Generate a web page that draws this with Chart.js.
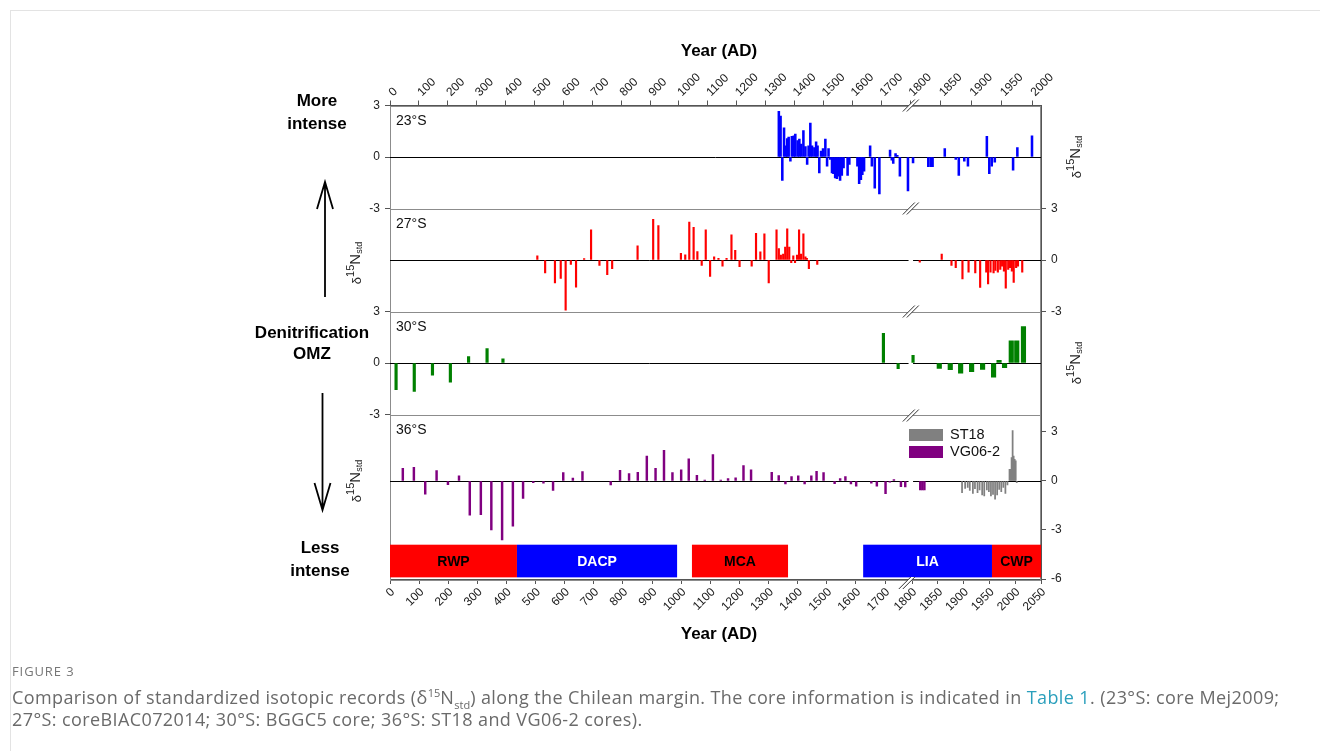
<!DOCTYPE html>
<html>
<head>
<meta charset="utf-8">
<script src="https://cdn.jsdelivr.net/npm/chart.js@4.4.1/dist/chart.umd.min.js"></script>
<style>
html,body{margin:0;padding:0;background:#fff;}
body{width:1320px;height:751px;position:relative;overflow:hidden;}
#frame{position:absolute;left:10px;top:10px;width:1310px;height:741px;border-left:1px solid #e3e3e3;border-top:1px solid #e3e3e3;}
#chart{position:absolute;left:0;top:0;}
#fig3{position:absolute;left:12px;top:662px;font:13px "Open Sans",sans-serif;color:#777;letter-spacing:.9px;}
#cap{position:absolute;left:12px;top:686px;font:18px/22px "Open Sans",sans-serif;color:#6a6a6a;white-space:nowrap;letter-spacing:.4px;}
#cap sup,#cap sub{font-size:11px;line-height:0;letter-spacing:0;}
#cap .lnk{color:#2a9fbc;}
</style>
</head>
<body>
<div id="frame"></div>
<canvas id="chart" width="1320" height="751"></canvas>
<div id="fig3">FIGURE 3</div>
<div id="cap">Comparison of standardized isotopic records (δ<sup>15</sup>N<sub>std</sub>) along the Chilean margin. The core information is indicated in <span class="lnk">Table 1</span>. (23°S: core Mej2009;<br>27°S: coreBIAC072014; 30°S: BGGC5 core; 36°S: ST18 and VG06-2 cores).</div>
<script>
const FONT = '"Liberation Sans", Arial, Helvetica, sans-serif';

// tick labels of the two year axes
const TOP_YEARS = [0,100,200,300,400,500,600,700,800,900,1000,1100,1200,1300,1400,1500,1600,1700,1800,1850,1900,1950,2000];
const BOTTOM_YEARS = [0,100,200,300,400,500,600,700,800,900,1000,1100,1200,1300,1400,1500,1600,1700,1800,1850,1900,1950,2000,2050];

// 23°S core Mej2009
const YEARS_23S = [1346,1352,1358,1364,1370,1375,1380,1386,1391,1398,1403,1411,1417,1423,1431,1438,1444,1449,1455,1461,1469,1475,1480,1486,1492,1499,1507,1513,1518,1524,1530,1535,1541,1547,1553,1558,1564,1570,1584,1590,1618,1624,1630,1635,1641,1662,1668,1678,1694,1731,1737,1742,1750,1756,1765,1793,1805,1830,1834,1837,1857,1875,1880,1889,1895,1926,1930,1934,1939,1969,1976,2000];
const D15N_23S = [2.66,2.39,-1.36,1.70,0.65,1.08,1.16,-0.24,1.20,1.24,1.34,0.95,1.04,0.75,1.54,0.61,-0.43,0.65,1.97,0.65,0.55,0.89,0.65,-0.93,0.35,0.49,1.04,-0.53,0.49,-0.14,-0.93,-0.97,-1.22,-1.26,-1.12,-1.36,-1.08,-0.63,-1.08,-0.43,-0.53,-1.56,-1.32,-1.03,-0.83,0.65,-0.53,-1.81,-2.15,0.41,-0.18,-0.37,0.20,0.10,-1.12,-1.97,-0.34,-0.57,-0.57,-0.57,0.49,-0.14,-1.08,-0.24,-0.53,1.20,-0.97,-0.53,-0.30,-0.77,0.55,1.24];

// 27°S core BIAC072014
const YEARS_27S = [510,537,571,591,608,626,644,672,696,725,752,769,857,911,929,1007,1022,1036,1051,1064,1079,1093,1108,1122,1137,1151,1165,1182,1195,1210,1252,1267,1282,1296,1311,1338,1346,1353,1361,1368,1375,1382,1389,1396,1402,1409,1416,1423,1431,1438,1443,1450,1479,1816,1852,1868,1875,1886,1896,1907,1915,1925,1928,1932,1937,1940,1944,1948,1951,1954,1957,1961,1964,1967,1970,1974,1977,1984];
const D15N_27S = [0.24,-0.75,-1.34,-1.08,-2.92,-0.26,-1.58,0.08,1.76,-0.32,-0.85,-0.51,0.83,2.37,2.01,0.39,0.30,2.21,1.91,0.49,-0.32,1.76,-0.95,0.18,0.10,-0.36,0.10,1.46,0.57,-0.39,-0.36,1.56,0.47,1.52,-1.34,1.76,0.67,0.28,0.34,0.75,1.81,0.75,-0.16,0.24,-0.16,0.28,1.76,0.34,1.52,0.18,0.10,-0.51,-0.26,-0.12,0.34,-0.32,-0.45,-1.10,-0.71,-0.75,-1.60,-0.71,-1.40,-0.71,-0.75,-0.61,-0.71,-0.55,-0.36,-0.65,-1.64,-0.55,-0.45,-0.65,-1.30,-0.45,-0.36,-0.71];

// 30°S core BGGC5 (older samples, then the dense recent part)
const YEARS_30S_OLD = [21,84,147,209,272,336,391,1708,1759,1805];
const D15N_30S_OLD = [-1.55,-1.65,-0.71,-1.12,0.37,0.84,0.25,1.73,-0.33,0.45];
const YEARS_30S_NEW = [1848,1866,1883,1901,1919,1937,1946,1955,1966,1975,1986];
const D15N_30S_NEW = [-0.31,-0.39,-0.59,-0.51,-0.37,-0.82,0.16,-0.27,1.29,1.29,2.12];

// 36°S cores VG06-2 and ST18
const YEARS_VG06 = [44,82,121,160,199,237,274,312,348,385,422,457,492,527,560,595,628,661,758,790,821,851,882,912,941,970,1000,1026,1054,1081,1109,1136,1161,1187,1214,1240,1311,1335,1358,1379,1402,1424,1447,1465,1489,1527,1546,1564,1583,1601,1653,1672,1702,1718,1733,1759,1775,1816,1820,1824];
const D15N_VG06 = [0.78,0.84,-0.80,0.63,-0.22,0.31,-2.10,-2.06,-3.00,-3.61,-2.76,-1.06,-0.10,-0.14,-0.57,0.51,0.18,0.57,-0.24,0.65,0.45,0.53,1.53,0.78,1.88,0.51,0.69,1.35,0.35,0.06,1.61,0.06,0.14,0.20,0.94,0.69,0.53,0.33,-0.18,0.27,0.31,-0.18,0.31,0.59,0.51,-0.16,0.14,0.27,-0.18,-0.31,-0.14,-0.31,-0.78,-0.08,0.08,-0.35,-0.37,-0.55,-0.55,-0.55];
const YEARS_ST18 = [1897,1903,1908,1912,1918,1922,1927,1931,1936,1940,1945,1949,1953,1957,1961,1965,1969,1973,1977,1981,1985,1989,1991,1993,1995,1997,1999,2001,2003];
const D15N_ST18 = [-0.71,-0.45,-0.39,-0.57,-0.76,-0.47,-0.71,-0.55,-0.86,-0.92,-0.55,-0.65,-0.92,-0.82,-1.12,-0.86,-0.51,-0.65,-0.39,-0.76,-0.24,0.71,0.71,1.43,3.08,1.53,1.33,1.24,-0.10];

// climatic periods
const PERIODS = ['RWP','DACP','MCA','LIA','CWP'];
const PERIOD_START = [0,436,1037,1625,1955];
const PERIOD_END = [436,986,1367,1955,2050];

const TICKS_36S = [-6,-3,0,3];

// piecewise year -> pixel offset for the broken axes
const AXIS_BREAKS = {
    xt: [[0,0],[1800,520],[2000,642]],
    xb: [[0,0],[1700,495],[1800,522],[2050,651]]
};
const AXIS_TICKS = {xt: TOP_YEARS, xb: BOTTOM_YEARS};

class BrokenScale extends Chart.LinearScale {
    buildTicks(){
        return AXIS_TICKS[this.id].map(v => ({value: v}));
    }
    getPixelForValue(v){
        const a = AXIS_BREAKS[this.id];
        let i = 0;
        while(i < a.length - 2 && v > a[i+1][0]) i++;
        const p = a[i], q = a[i+1];
        return this.left + p[1] + (v - p[0]) * (q[1] - p[1]) / (q[0] - p[0]);
    }
    getValueForPixel(px){
        const a = AXIS_BREAKS[this.id];
        const off = px - this.left;
        let i = 0;
        while(i < a.length - 2 && off > a[i+1][1]) i++;
        const p = a[i], q = a[i+1];
        return p[0] + (off - p[1]) * (q[0] - p[0]) / (q[1] - p[1]);
    }
}
BrokenScale.id = 'broken';
BrokenScale.defaults = {};
Chart.register(BrokenScale);

Chart.defaults.font.family = FONT;

function pairs(xs, ys){
    return xs.map((x,i) => ({x: x, y: ys[i]}));
}

function barSet(label, xs, ys, color, thick, xAxis, yAxis){
    return {
        label: label,
        data: pairs(xs, ys),
        backgroundColor: color,
        borderWidth: 0,
        barThickness: thick,
        grouped: false,
        xAxisID: xAxis,
        yAxisID: yAxis
    };
}

function xAxis(pos, max, h, shift){
    return {
        type: 'broken',
        position: pos,
        min: 0,
        max: max,
        offset: false,
        grid: {drawOnChartArea: false, offset: false, tickLength: 5, color: '#555'},
        border: {color: '#555'},
        ticks: {
            autoSkip: false, minRotation: 45, maxRotation: 45, padding: 1,
            labelOffset: shift,
            font: {size: 12}, color: '#1a1a1a',
            callback: v => String(v)
        },
        afterFit: s => { s.height = h; }
    };
}

function yAxis(pos, stack, weight, order, min, max, showTicks){
    const o = {
        type: 'linear',
        position: pos,
        stack: stack,
        stackWeight: weight,
        weight: order,
        min: min,
        max: max,
        grid: {drawOnChartArea: false, drawTicks: showTicks, tickLength: 5, color: '#555'},
        border: {color: '#555'},
        ticks: {display: showTicks, stepSize: 3, padding: 5, font: {size: 12}, color: '#222'},
        afterFit: s => { s.width = pos === 'left' ? 390 : 279; }
    };
    if(max > 3.5){
        o.afterBuildTicks = s => { s.ticks = TICKS_36S.map(v => ({value: v})); };
    }
    return o;
}

const PANEL_AXES = ['yL23','yL27','yL30','yL36'];
const PANEL_NAMES = ['23°S','27°S','30°S','36°S'];

function breakMark(ctx, cx, cy){
    ctx.save();
    ctx.fillStyle = '#fff';
    ctx.beginPath();
    ctx.moveTo(cx-8, cy+6); ctx.lineTo(cx+4, cy-6); ctx.lineTo(cx+8, cy-6); ctx.lineTo(cx-4, cy+6);
    ctx.closePath();
    ctx.fill();
    ctx.strokeStyle = '#333';
    ctx.lineWidth = 1;
    ctx.beginPath();
    ctx.moveTo(cx-8, cy+6); ctx.lineTo(cx+4, cy-6);
    ctx.moveTo(cx-4, cy+6); ctx.lineTo(cx+8, cy-6);
    ctx.stroke();
    ctx.restore();
}

function deltaTitle(ctx, cx, cy){
    const parts = [['δ',13,1],['15',11,-5],['N',15,0],['std',9,4]];
    ctx.save();
    ctx.translate(cx, cy);
    ctx.rotate(-Math.PI/2);
    ctx.textBaseline = 'middle';
    ctx.fillStyle = '#222';
    let w = 0;
    parts.forEach(p => { ctx.font = p[1] + 'px ' + FONT; w += ctx.measureText(p[0]).width; });
    let x = -w/2;
    parts.forEach(p => {
        ctx.font = p[1] + 'px ' + FONT;
        ctx.fillText(p[0], x, p[2]);
        x += ctx.measureText(p[0]).width;
    });
    ctx.restore();
}

function arrow(ctx, x, y0, y1){
    const d = y1 < y0 ? 1 : -1;
    ctx.beginPath();
    ctx.moveTo(x, y0); ctx.lineTo(x, y1);
    ctx.moveTo(x-8, y1 + d*27); ctx.lineTo(x, y1); ctx.lineTo(x+8, y1 + d*27);
    ctx.stroke();
}

const decor = {
    id: 'decor',
    beforeDatasetsDraw(chart){
        const {ctx, chartArea: ca, scales} = chart;
        const xt = scales.xt;
        const g0 = xt.getPixelForValue(1795), g1 = xt.getPixelForValue(1805);
        ctx.save();
        ctx.lineWidth = 1;
        ctx.strokeStyle = '#8c8c8c';
        PANEL_AXES.forEach(id => {
            const s = scales[id];
            ctx.strokeRect(Math.round(ca.left)+0.5, Math.round(s.top)+0.5, Math.round(ca.width)-1, Math.round(s.bottom - s.top));
        });
        ctx.strokeStyle = '#000';
        PANEL_AXES.forEach((id, i) => {
            const y = Math.round(scales[id].getPixelForValue(0)) + 0.5;
            ctx.beginPath();
            ctx.moveTo(ca.left, y);
            if(i === 0){
                ctx.lineTo(ca.right, y);
            } else {
                ctx.lineTo(g0, y);
                ctx.moveTo(g1, y);
                ctx.lineTo(ca.right, y);
            }
            ctx.stroke();
        });
        ctx.restore();
    },
    afterDraw(chart){
        const {ctx, chartArea: ca, scales} = chart;
        const xb = scales.xb, xt = scales.xt, y36 = scales.yL36;
        ctx.save();

        // climatic period bars
        const top = y36.getPixelForValue(-3.9), bot = y36.getPixelForValue(-5.9);
        PERIODS.forEach((name, i) => {
            const a = xb.getPixelForValue(PERIOD_START[i]);
            const b = Math.min(xb.getPixelForValue(PERIOD_END[i]), ca.right);
            const blue = name === 'DACP' || name === 'LIA';
            ctx.fillStyle = blue ? '#0000ff' : '#ff0000';
            ctx.fillRect(a, top, b - a, bot - top);
            ctx.fillStyle = blue ? '#ffffff' : '#000000';
            ctx.font = 'bold 14px ' + FONT;
            ctx.textAlign = 'center';
            ctx.textBaseline = 'middle';
            ctx.fillText(name, (a + b)/2, (top + bot)/2 + 1);
        });

        // panel labels
        ctx.fillStyle = '#111';
        ctx.font = '14px ' + FONT;
        ctx.textAlign = 'left';
        ctx.textBaseline = 'middle';
        PANEL_AXES.forEach((id, i) => {
            ctx.fillText(PANEL_NAMES[i], ca.left + 6, scales[id].top + 16);
        });

        // legend of the 36°S panel
        ctx.fillStyle = '#808080';
        ctx.fillRect(909, 429, 34, 12);
        ctx.fillStyle = '#800080';
        ctx.fillRect(909, 446, 34, 12);
        ctx.fillStyle = '#111';
        ctx.font = '14.5px ' + FONT;
        ctx.fillText('ST18', 950, 435);
        ctx.fillText('VG06-2', 950, 452);

        // axis breaks
        const bx = (xt.getPixelForValue(1795) + xt.getPixelForValue(1805)) / 2;
        breakMark(ctx, bx, ca.top);
        breakMark(ctx, bx, scales.yL23.bottom);
        breakMark(ctx, bx, scales.yL27.bottom);
        breakMark(ctx, bx, scales.yL30.bottom + 1);
        breakMark(ctx, bx - 4, ca.bottom + 4);

        // y axis titles
        deltaTitle(ctx, 1076, scales.yL23.getPixelForValue(0));
        deltaTitle(ctx, 356, scales.yL27.getPixelForValue(0) + 3);
        deltaTitle(ctx, 1076, scales.yL30.getPixelForValue(0));
        deltaTitle(ctx, 356, y36.getPixelForValue(0));

        // year titles
        ctx.fillStyle = '#000';
        ctx.font = 'bold 17px ' + FONT;
        ctx.textAlign = 'center';
        ctx.fillText('Year (AD)', 719, 51);
        ctx.fillText('Year (AD)', 719, 634);

        // denitrification annotation
        ctx.fillText('More', 317, 101);
        ctx.fillText('intense', 317, 124);
        ctx.fillText('Denitrification', 312, 333);
        ctx.fillText('OMZ', 312, 354);
        ctx.fillText('Less', 320, 548);
        ctx.fillText('intense', 320, 571);
        ctx.strokeStyle = '#000';
        ctx.lineWidth = 1.8;
        arrow(ctx, 325, 297, 182);
        arrow(ctx, 322.5, 393, 510);

        ctx.restore();
    }
};

new Chart(document.getElementById('chart'), {
    type: 'bar',
    data: {
        datasets: [
            barSet('23°S', YEARS_23S, D15N_23S, '#0000ff', 1.9, 'xt', 'yL23'),
            barSet('27°S', YEARS_27S, D15N_27S, '#ff0000', 1.5, 'xt', 'yL27'),
            barSet('30°S', YEARS_30S_OLD, D15N_30S_OLD, '#008000', 2.5, 'xt', 'yL30'),
            barSet('30°S', YEARS_30S_NEW, D15N_30S_NEW, '#008000', 4.5, 'xt', 'yL30'),
            barSet('VG06-2', YEARS_VG06, D15N_VG06, '#800080', 1.8, 'xb', 'yL36'),
            barSet('ST18', YEARS_ST18, D15N_ST18, '#808080', 1.1, 'xb', 'yL36')
        ]
    },
    options: {
        responsive: false,
        animation: false,
        events: [],
        layout: {padding: 0},
        plugins: {legend: {display: false}, tooltip: {enabled: false}},
        scales: {
            xt: xAxis('top', 2000, 105.5, 11),
            xb: xAxis('bottom', 2050, 172, 3),
            yL23: yAxis('left', 'L', 103, 4, -3, 3, true),
            yL27: yAxis('left', 'L', 103, 3, -3, 3, false),
            yL30: yAxis('left', 'L', 103, 2, -3, 3, true),
            yL36: yAxis('left', 'L', 164.5, 1, -6, 4.07, false),
            yR23: yAxis('right', 'R', 103, 1, -3, 3, false),
            yR27: yAxis('right', 'R', 103, 2, -3, 3, true),
            yR30: yAxis('right', 'R', 103, 3, -3, 3, false),
            yR36: yAxis('right', 'R', 164.5, 4, -6, 4.07, true)
        }
    },
    plugins: [decor]
});
</script>
</body>
</html>
